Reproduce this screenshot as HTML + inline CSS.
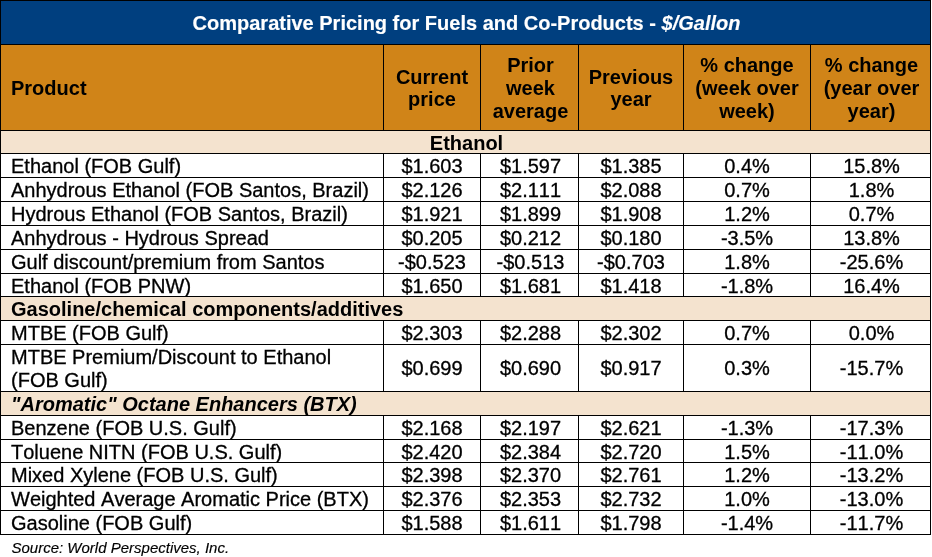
<!DOCTYPE html>
<html lang="en"><head><meta charset="utf-8"><title>Comparative Pricing for Fuels and Co-Products</title>
<style>
html,body{margin:0;padding:0;background:#fff}
body{width:932px;height:557px;position:relative;overflow:hidden;font-family:"Liberation Sans",Arial,sans-serif;color:#000;font-kerning:none;font-variant-ligatures:none;-webkit-text-stroke:0.3px #000}
.b{position:absolute}
.t{position:absolute;display:flex;align-items:center;font-size:20px;line-height:23px;white-space:nowrap}
.t.c{justify-content:center;text-align:center}
.t.l{justify-content:flex-start;text-align:left}
.ttl{color:#fff;-webkit-text-stroke:0.15px #fff;font-weight:bold;font-size:20px}
.hd{font-weight:bold;-webkit-text-stroke:0;line-height:23px}
.sec{font-weight:bold;-webkit-text-stroke:0}
.it{font-style:italic}
.src{-webkit-text-stroke:0.15px #000;font-style:italic;font-size:15px;line-height:19px}
</style></head><body>
<div class="b" style="left:0px;top:0px;width:931px;height:535px;background:#000"></div>
<div class="b" style="left:1px;top:1px;width:929px;height:43px;background:#003f7f"></div>
<div class="t ttl c" style="left:2px;top:2px;width:929px;height:43px;"><span>Comparative Pricing for Fuels and Co-Products - <i>$/Gallon</i></span></div>
<div class="b" style="left:1px;top:45px;width:382px;height:85px;background:#d08418"></div>
<div class="b" style="left:384px;top:45px;width:96px;height:85px;background:#d08418"></div>
<div class="b" style="left:481px;top:45px;width:97px;height:85px;background:#d08418"></div>
<div class="b" style="left:579px;top:45px;width:104px;height:85px;background:#d08418"></div>
<div class="b" style="left:684px;top:45px;width:126px;height:85px;background:#d08418"></div>
<div class="b" style="left:811px;top:45px;width:119px;height:85px;background:#d08418"></div>
<div class="t hd l" style="left:11px;top:46px;width:372px;height:85px;"><span>Product</span></div>
<div class="t hd c" style="left:384px;top:66px;width:96px;height:44px;line-height:22px;"><span>Current<br>price</span></div>
<div class="t hd c" style="left:482px;top:46px;width:97px;height:85px;"><span>Prior<br>week<br>average</span></div>
<div class="t hd c" style="left:579px;top:66px;width:104px;height:44px;line-height:22px;"><span>Previous<br>year</span></div>
<div class="t hd c" style="left:684px;top:46px;width:126px;height:85px;"><span>% change<br>(week over<br>week)</span></div>
<div class="t hd c" style="left:812px;top:46px;width:119px;height:85px;"><span>% change<br>(year over<br>year)</span></div>
<div class="b" style="left:1px;top:131px;width:929px;height:22px;background:#f4e3cf"></div>
<div class="t sec c" style="left:2px;top:132px;width:929px;height:23px;"><span>Ethanol</span></div>
<div class="b" style="left:1px;top:154px;width:382px;height:23px;background:#fff"></div>
<div class="b" style="left:384px;top:154px;width:96px;height:23px;background:#fff"></div>
<div class="b" style="left:481px;top:154px;width:97px;height:23px;background:#fff"></div>
<div class="b" style="left:579px;top:154px;width:104px;height:23px;background:#fff"></div>
<div class="b" style="left:684px;top:154px;width:126px;height:23px;background:#fff"></div>
<div class="b" style="left:811px;top:154px;width:119px;height:23px;background:#fff"></div>
<div class="t l" style="left:11px;top:155px;width:372px;height:23px;"><span>Ethanol (FOB Gulf)</span></div>
<div class="t c" style="left:384px;top:155px;width:96px;height:23px;"><span>$1.603</span></div>
<div class="t c" style="left:482px;top:155px;width:97px;height:23px;"><span>$1.597</span></div>
<div class="t c" style="left:579px;top:155px;width:104px;height:23px;"><span>$1.385</span></div>
<div class="t c" style="left:684px;top:155px;width:126px;height:23px;"><span>0.4%</span></div>
<div class="t c" style="left:812px;top:155px;width:119px;height:23px;"><span>15.8%</span></div>
<div class="b" style="left:1px;top:178px;width:382px;height:23px;background:#fff"></div>
<div class="b" style="left:384px;top:178px;width:96px;height:23px;background:#fff"></div>
<div class="b" style="left:481px;top:178px;width:97px;height:23px;background:#fff"></div>
<div class="b" style="left:579px;top:178px;width:104px;height:23px;background:#fff"></div>
<div class="b" style="left:684px;top:178px;width:126px;height:23px;background:#fff"></div>
<div class="b" style="left:811px;top:178px;width:119px;height:23px;background:#fff"></div>
<div class="t l" style="left:11px;top:179px;width:372px;height:23px;"><span>Anhydrous Ethanol (FOB Santos, Brazil)</span></div>
<div class="t c" style="left:384px;top:179px;width:96px;height:23px;"><span>$2.126</span></div>
<div class="t c" style="left:482px;top:179px;width:97px;height:23px;"><span>$2.111</span></div>
<div class="t c" style="left:579px;top:179px;width:104px;height:23px;"><span>$2.088</span></div>
<div class="t c" style="left:684px;top:179px;width:126px;height:23px;"><span>0.7%</span></div>
<div class="t c" style="left:812px;top:179px;width:119px;height:23px;"><span>1.8%</span></div>
<div class="b" style="left:1px;top:202px;width:382px;height:23px;background:#fff"></div>
<div class="b" style="left:384px;top:202px;width:96px;height:23px;background:#fff"></div>
<div class="b" style="left:481px;top:202px;width:97px;height:23px;background:#fff"></div>
<div class="b" style="left:579px;top:202px;width:104px;height:23px;background:#fff"></div>
<div class="b" style="left:684px;top:202px;width:126px;height:23px;background:#fff"></div>
<div class="b" style="left:811px;top:202px;width:119px;height:23px;background:#fff"></div>
<div class="t l" style="left:11px;top:203px;width:372px;height:23px;"><span>Hydrous Ethanol (FOB Santos, Brazil)</span></div>
<div class="t c" style="left:384px;top:203px;width:96px;height:23px;"><span>$1.921</span></div>
<div class="t c" style="left:482px;top:203px;width:97px;height:23px;"><span>$1.899</span></div>
<div class="t c" style="left:579px;top:203px;width:104px;height:23px;"><span>$1.908</span></div>
<div class="t c" style="left:684px;top:203px;width:126px;height:23px;"><span>1.2%</span></div>
<div class="t c" style="left:812px;top:203px;width:119px;height:23px;"><span>0.7%</span></div>
<div class="b" style="left:1px;top:226px;width:382px;height:23px;background:#fff"></div>
<div class="b" style="left:384px;top:226px;width:96px;height:23px;background:#fff"></div>
<div class="b" style="left:481px;top:226px;width:97px;height:23px;background:#fff"></div>
<div class="b" style="left:579px;top:226px;width:104px;height:23px;background:#fff"></div>
<div class="b" style="left:684px;top:226px;width:126px;height:23px;background:#fff"></div>
<div class="b" style="left:811px;top:226px;width:119px;height:23px;background:#fff"></div>
<div class="t l" style="left:11px;top:227px;width:372px;height:23px;"><span>Anhydrous - Hydrous Spread</span></div>
<div class="t c" style="left:384px;top:227px;width:96px;height:23px;"><span>$0.205</span></div>
<div class="t c" style="left:482px;top:227px;width:97px;height:23px;"><span>$0.212</span></div>
<div class="t c" style="left:579px;top:227px;width:104px;height:23px;"><span>$0.180</span></div>
<div class="t c" style="left:684px;top:227px;width:126px;height:23px;"><span>-3.5%</span></div>
<div class="t c" style="left:812px;top:227px;width:119px;height:23px;"><span>13.8%</span></div>
<div class="b" style="left:1px;top:250px;width:382px;height:23px;background:#fff"></div>
<div class="b" style="left:384px;top:250px;width:96px;height:23px;background:#fff"></div>
<div class="b" style="left:481px;top:250px;width:97px;height:23px;background:#fff"></div>
<div class="b" style="left:579px;top:250px;width:104px;height:23px;background:#fff"></div>
<div class="b" style="left:684px;top:250px;width:126px;height:23px;background:#fff"></div>
<div class="b" style="left:811px;top:250px;width:119px;height:23px;background:#fff"></div>
<div class="t l" style="left:11px;top:251px;width:372px;height:23px;"><span>Gulf discount/premium from Santos</span></div>
<div class="t c" style="left:384px;top:251px;width:96px;height:23px;"><span>-$0.523</span></div>
<div class="t c" style="left:482px;top:251px;width:97px;height:23px;"><span>-$0.513</span></div>
<div class="t c" style="left:579px;top:251px;width:104px;height:23px;"><span>-$0.703</span></div>
<div class="t c" style="left:684px;top:251px;width:126px;height:23px;"><span>1.8%</span></div>
<div class="t c" style="left:812px;top:251px;width:119px;height:23px;"><span>-25.6%</span></div>
<div class="b" style="left:1px;top:274px;width:382px;height:22px;background:#fff"></div>
<div class="b" style="left:384px;top:274px;width:96px;height:22px;background:#fff"></div>
<div class="b" style="left:481px;top:274px;width:97px;height:22px;background:#fff"></div>
<div class="b" style="left:579px;top:274px;width:104px;height:22px;background:#fff"></div>
<div class="b" style="left:684px;top:274px;width:126px;height:22px;background:#fff"></div>
<div class="b" style="left:811px;top:274px;width:119px;height:22px;background:#fff"></div>
<div class="t l" style="left:11px;top:275px;width:372px;height:23px;"><span>Ethanol (FOB PNW)</span></div>
<div class="t c" style="left:384px;top:275px;width:96px;height:23px;"><span>$1.650</span></div>
<div class="t c" style="left:482px;top:275px;width:97px;height:23px;"><span>$1.681</span></div>
<div class="t c" style="left:579px;top:275px;width:104px;height:23px;"><span>$1.418</span></div>
<div class="t c" style="left:684px;top:275px;width:126px;height:23px;"><span>-1.8%</span></div>
<div class="t c" style="left:812px;top:275px;width:119px;height:23px;"><span>16.4%</span></div>
<div class="b" style="left:1px;top:297px;width:929px;height:23px;background:#f4e3cf"></div>
<div class="t sec l" style="left:11px;top:298px;width:900px;height:23px;"><span>Gasoline/chemical components/additives</span></div>
<div class="b" style="left:1px;top:321px;width:382px;height:23px;background:#fff"></div>
<div class="b" style="left:384px;top:321px;width:96px;height:23px;background:#fff"></div>
<div class="b" style="left:481px;top:321px;width:97px;height:23px;background:#fff"></div>
<div class="b" style="left:579px;top:321px;width:104px;height:23px;background:#fff"></div>
<div class="b" style="left:684px;top:321px;width:126px;height:23px;background:#fff"></div>
<div class="b" style="left:811px;top:321px;width:119px;height:23px;background:#fff"></div>
<div class="t l" style="left:11px;top:322px;width:372px;height:23px;"><span>MTBE (FOB Gulf)</span></div>
<div class="t c" style="left:384px;top:322px;width:96px;height:23px;"><span>$2.303</span></div>
<div class="t c" style="left:482px;top:322px;width:97px;height:23px;"><span>$2.288</span></div>
<div class="t c" style="left:579px;top:322px;width:104px;height:23px;"><span>$2.302</span></div>
<div class="t c" style="left:684px;top:322px;width:126px;height:23px;"><span>0.7%</span></div>
<div class="t c" style="left:812px;top:322px;width:119px;height:23px;"><span>0.0%</span></div>
<div class="b" style="left:1px;top:345px;width:382px;height:46px;background:#fff"></div>
<div class="b" style="left:384px;top:345px;width:96px;height:46px;background:#fff"></div>
<div class="b" style="left:481px;top:345px;width:97px;height:46px;background:#fff"></div>
<div class="b" style="left:579px;top:345px;width:104px;height:46px;background:#fff"></div>
<div class="b" style="left:684px;top:345px;width:126px;height:46px;background:#fff"></div>
<div class="b" style="left:811px;top:345px;width:119px;height:46px;background:#fff"></div>
<div class="t l" style="left:11px;top:346px;width:372px;height:46px;"><span>MTBE Premium/Discount to Ethanol<br>(FOB Gulf)</span></div>
<div class="t c" style="left:384px;top:345px;width:96px;height:46px;"><span>$0.699</span></div>
<div class="t c" style="left:482px;top:345px;width:97px;height:46px;"><span>$0.690</span></div>
<div class="t c" style="left:579px;top:345px;width:104px;height:46px;"><span>$0.917</span></div>
<div class="t c" style="left:684px;top:345px;width:126px;height:46px;"><span>0.3%</span></div>
<div class="t c" style="left:812px;top:345px;width:119px;height:46px;"><span>-15.7%</span></div>
<div class="b" style="left:1px;top:392px;width:929px;height:23px;background:#f4e3cf"></div>
<div class="t sec l it" style="left:11px;top:393px;width:900px;height:23px;"><span>"Aromatic" Octane Enhancers (BTX)</span></div>
<div class="b" style="left:1px;top:416px;width:382px;height:23px;background:#fff"></div>
<div class="b" style="left:384px;top:416px;width:96px;height:23px;background:#fff"></div>
<div class="b" style="left:481px;top:416px;width:97px;height:23px;background:#fff"></div>
<div class="b" style="left:579px;top:416px;width:104px;height:23px;background:#fff"></div>
<div class="b" style="left:684px;top:416px;width:126px;height:23px;background:#fff"></div>
<div class="b" style="left:811px;top:416px;width:119px;height:23px;background:#fff"></div>
<div class="t l" style="left:11px;top:417px;width:372px;height:23px;"><span>Benzene (FOB U.S. Gulf)</span></div>
<div class="t c" style="left:384px;top:417px;width:96px;height:23px;"><span>$2.168</span></div>
<div class="t c" style="left:482px;top:417px;width:97px;height:23px;"><span>$2.197</span></div>
<div class="t c" style="left:579px;top:417px;width:104px;height:23px;"><span>$2.621</span></div>
<div class="t c" style="left:684px;top:417px;width:126px;height:23px;"><span>-1.3%</span></div>
<div class="t c" style="left:812px;top:417px;width:119px;height:23px;"><span>-17.3%</span></div>
<div class="b" style="left:1px;top:440px;width:382px;height:22px;background:#fff"></div>
<div class="b" style="left:384px;top:440px;width:96px;height:22px;background:#fff"></div>
<div class="b" style="left:481px;top:440px;width:97px;height:22px;background:#fff"></div>
<div class="b" style="left:579px;top:440px;width:104px;height:22px;background:#fff"></div>
<div class="b" style="left:684px;top:440px;width:126px;height:22px;background:#fff"></div>
<div class="b" style="left:811px;top:440px;width:119px;height:22px;background:#fff"></div>
<div class="t l" style="left:11px;top:441px;width:372px;height:23px;"><span>Toluene NITN (FOB U.S. Gulf)</span></div>
<div class="t c" style="left:384px;top:441px;width:96px;height:23px;"><span>$2.420</span></div>
<div class="t c" style="left:482px;top:441px;width:97px;height:23px;"><span>$2.384</span></div>
<div class="t c" style="left:579px;top:441px;width:104px;height:23px;"><span>$2.720</span></div>
<div class="t c" style="left:684px;top:441px;width:126px;height:23px;"><span>1.5%</span></div>
<div class="t c" style="left:812px;top:441px;width:119px;height:23px;"><span>-11.0%</span></div>
<div class="b" style="left:1px;top:463px;width:382px;height:23px;background:#fff"></div>
<div class="b" style="left:384px;top:463px;width:96px;height:23px;background:#fff"></div>
<div class="b" style="left:481px;top:463px;width:97px;height:23px;background:#fff"></div>
<div class="b" style="left:579px;top:463px;width:104px;height:23px;background:#fff"></div>
<div class="b" style="left:684px;top:463px;width:126px;height:23px;background:#fff"></div>
<div class="b" style="left:811px;top:463px;width:119px;height:23px;background:#fff"></div>
<div class="t l" style="left:11px;top:464px;width:372px;height:23px;"><span>Mixed Xylene (FOB U.S. Gulf)</span></div>
<div class="t c" style="left:384px;top:464px;width:96px;height:23px;"><span>$2.398</span></div>
<div class="t c" style="left:482px;top:464px;width:97px;height:23px;"><span>$2.370</span></div>
<div class="t c" style="left:579px;top:464px;width:104px;height:23px;"><span>$2.761</span></div>
<div class="t c" style="left:684px;top:464px;width:126px;height:23px;"><span>1.2%</span></div>
<div class="t c" style="left:812px;top:464px;width:119px;height:23px;"><span>-13.2%</span></div>
<div class="b" style="left:1px;top:487px;width:382px;height:23px;background:#fff"></div>
<div class="b" style="left:384px;top:487px;width:96px;height:23px;background:#fff"></div>
<div class="b" style="left:481px;top:487px;width:97px;height:23px;background:#fff"></div>
<div class="b" style="left:579px;top:487px;width:104px;height:23px;background:#fff"></div>
<div class="b" style="left:684px;top:487px;width:126px;height:23px;background:#fff"></div>
<div class="b" style="left:811px;top:487px;width:119px;height:23px;background:#fff"></div>
<div class="t l" style="left:11px;top:488px;width:372px;height:23px;"><span>Weighted Average Aromatic Price (BTX)</span></div>
<div class="t c" style="left:384px;top:488px;width:96px;height:23px;"><span>$2.376</span></div>
<div class="t c" style="left:482px;top:488px;width:97px;height:23px;"><span>$2.353</span></div>
<div class="t c" style="left:579px;top:488px;width:104px;height:23px;"><span>$2.732</span></div>
<div class="t c" style="left:684px;top:488px;width:126px;height:23px;"><span>1.0%</span></div>
<div class="t c" style="left:812px;top:488px;width:119px;height:23px;"><span>-13.0%</span></div>
<div class="b" style="left:1px;top:511px;width:382px;height:23px;background:#fff"></div>
<div class="b" style="left:384px;top:511px;width:96px;height:23px;background:#fff"></div>
<div class="b" style="left:481px;top:511px;width:97px;height:23px;background:#fff"></div>
<div class="b" style="left:579px;top:511px;width:104px;height:23px;background:#fff"></div>
<div class="b" style="left:684px;top:511px;width:126px;height:23px;background:#fff"></div>
<div class="b" style="left:811px;top:511px;width:119px;height:23px;background:#fff"></div>
<div class="t l" style="left:11px;top:512px;width:372px;height:23px;"><span>Gasoline (FOB Gulf)</span></div>
<div class="t c" style="left:384px;top:512px;width:96px;height:23px;"><span>$1.588</span></div>
<div class="t c" style="left:482px;top:512px;width:97px;height:23px;"><span>$1.611</span></div>
<div class="t c" style="left:579px;top:512px;width:104px;height:23px;"><span>$1.798</span></div>
<div class="t c" style="left:684px;top:512px;width:126px;height:23px;"><span>-1.4%</span></div>
<div class="t c" style="left:812px;top:512px;width:119px;height:23px;"><span>-11.7%</span></div>
<div class="t src l" style="left:11.5px;top:538px;width:500px;height:19px;"><span>Source: World Perspectives, Inc.</span></div>
</body></html>
